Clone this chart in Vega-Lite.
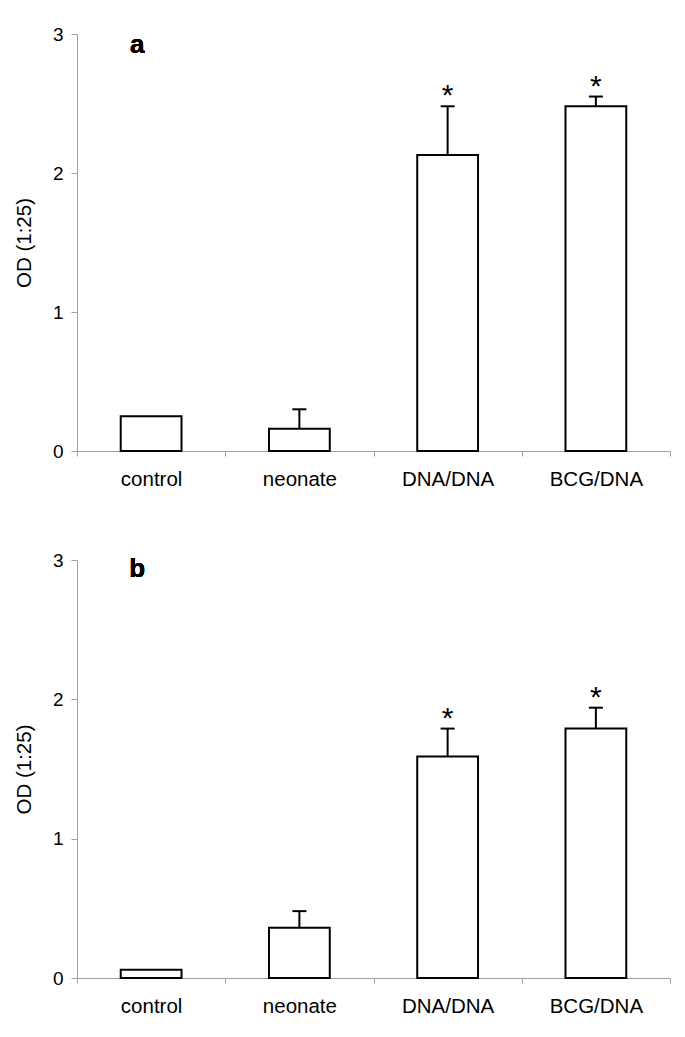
{
  "$schema": "https://vega.github.io/schema/vega-lite/v6.json",
  "background": "white",
  "padding": {"left": 14, "top": 25, "right": 10, "bottom": 5},
  "spacing": 61,
  "config": {
    "view": {"stroke": null},
    "font": "Liberation Sans",
    "axis": {
      "domainColor": "#a0a0a0",
      "tickColor": "#a0a0a0",
      "labelColor": "black",
      "titleColor": "black",
      "labelFont": "Liberation Sans",
      "titleFont": "Liberation Sans",
      "grid": false
    }
  },
  "datasets": {
    "a": [
      {"group": "control", "od": 0.25, "upper": null, "sig": ""},
      {"group": "neonate", "od": 0.16, "upper": 0.30, "sig": ""},
      {"group": "DNA/DNA", "od": 2.13, "upper": 2.48, "sig": "*"},
      {"group": "BCG/DNA", "od": 2.48, "upper": 2.55, "sig": "*"}
    ],
    "b": [
      {"group": "control", "od": 0.06, "upper": null, "sig": ""},
      {"group": "neonate", "od": 0.36, "upper": 0.48, "sig": ""},
      {"group": "DNA/DNA", "od": 1.59, "upper": 1.79, "sig": "*"},
      {"group": "BCG/DNA", "od": 1.79, "upper": 1.94, "sig": "*"}
    ]
  },
  "vconcat": [
    {
      "width": 593,
      "height": 417,
      "data": {"name": "a"},
      "encoding": {
        "x": {
          "field": "group", "type": "nominal", "sort": null,
          "scale": {"paddingInner": 0, "paddingOuter": 0},
          "axis": {"title": null, "labelAngle": 0, "labelFontSize": 20.5, "labelPadding": 13, "tickSize": 5, "tickBand": "extent"}
        }
      },
      "layer": [
        {
          "mark": {"type": "bar", "fill": "white", "stroke": "black", "strokeWidth": 2, "width": {"band": 0.41}},
          "encoding": {
            "y": {
              "field": "od", "type": "quantitative",
              "scale": {"domain": [0, 3], "nice": false},
              "axis": {"values": [0, 1, 2, 3], "format": "d", "title": "OD (1:25)", "titleFontSize": 20.5, "titleFontWeight": "normal", "titlePadding": 18, "labelFontSize": 19, "labelPadding": 8, "tickSize": 6}
            }
          }
        },
        {
          "transform": [{"filter": "isValid(datum.upper)"}],
          "mark": {"type": "rule", "color": "black", "strokeWidth": 2},
          "encoding": {"y": {"field": "od", "type": "quantitative"}, "y2": {"field": "upper"}}
        },
        {
          "transform": [{"filter": "isValid(datum.upper)"}],
          "mark": {"type": "tick", "color": "black", "thickness": 2, "size": 14, "opacity": 1},
          "encoding": {"y": {"field": "upper", "type": "quantitative"}}
        },
        {
          "transform": [{"filter": "datum.sig != ''"}],
          "mark": {"type": "text", "fontSize": 30, "baseline": "alphabetic", "dy": -1, "color": "black"},
          "encoding": {"y": {"field": "upper", "type": "quantitative"}, "text": {"field": "sig"}}
        },
        {
          "mark": {"type": "text", "fontSize": 26, "fontWeight": "bold", "baseline": "alphabetic", "dx": -14, "color": "black"},
          "encoding": {"x": {"datum": "control"}, "y": {"datum": 2.865}, "text": {"value": "a"}}
        }
      ]
    },
    {
      "width": 593,
      "height": 418,
      "data": {"name": "b"},
      "encoding": {
        "x": {
          "field": "group", "type": "nominal", "sort": null,
          "scale": {"paddingInner": 0, "paddingOuter": 0},
          "axis": {"title": null, "labelAngle": 0, "labelFontSize": 20.5, "labelPadding": 13, "tickSize": 5, "tickBand": "extent"}
        }
      },
      "layer": [
        {
          "mark": {"type": "bar", "fill": "white", "stroke": "black", "strokeWidth": 2, "width": {"band": 0.41}},
          "encoding": {
            "y": {
              "field": "od", "type": "quantitative",
              "scale": {"domain": [0, 3], "nice": false},
              "axis": {"values": [0, 1, 2, 3], "format": "d", "title": "OD (1:25)", "titleFontSize": 20.5, "titleFontWeight": "normal", "titlePadding": 18, "labelFontSize": 19, "labelPadding": 8, "tickSize": 6}
            }
          }
        },
        {
          "transform": [{"filter": "isValid(datum.upper)"}],
          "mark": {"type": "rule", "color": "black", "strokeWidth": 2},
          "encoding": {"y": {"field": "od", "type": "quantitative"}, "y2": {"field": "upper"}}
        },
        {
          "transform": [{"filter": "isValid(datum.upper)"}],
          "mark": {"type": "tick", "color": "black", "thickness": 2, "size": 14, "opacity": 1},
          "encoding": {"y": {"field": "upper", "type": "quantitative"}}
        },
        {
          "transform": [{"filter": "datum.sig != ''"}],
          "mark": {"type": "text", "fontSize": 30, "baseline": "alphabetic", "dy": -1, "color": "black"},
          "encoding": {"y": {"field": "upper", "type": "quantitative"}, "text": {"field": "sig"}}
        },
        {
          "mark": {"type": "text", "fontSize": 26, "fontWeight": "bold", "baseline": "alphabetic", "dx": -14, "color": "black"},
          "encoding": {"x": {"datum": "control"}, "y": {"datum": 2.875}, "text": {"value": "b"}}
        }
      ]
    }
  ]
}
